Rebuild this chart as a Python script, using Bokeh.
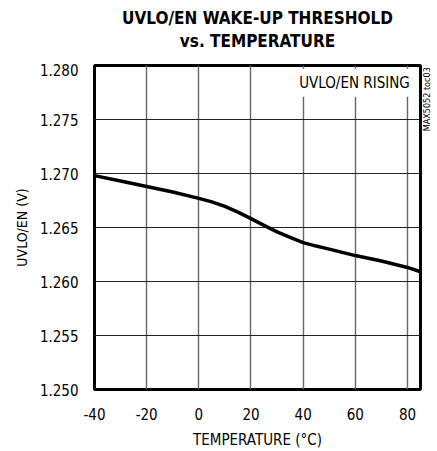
import numpy as np
from bokeh.plotting import figure
from bokeh.models import Range1d, FixedTicker, PrintfTickFormatter, Label
from bokeh.layouts import column, row
from bokeh.core.properties import value
from bokeh.embed import file_html
from bokeh.resources import INLINE

# Data
temperature = [-40, -30, -20, -10, 0, 5, 10, 15, 20, 25, 30, 35, 40, 45, 50, 60, 70, 80, 85]
threshold = [1.2698, 1.2693, 1.2688, 1.26828, 1.2677, 1.26737, 1.26695, 1.26642, 1.26582, 1.2652,
             1.2646, 1.26408, 1.2636, 1.26328, 1.2630, 1.2624, 1.2619, 1.2613, 1.2609]
x_ticks = [-40, -20, 0, 20, 40, 60, 80]
y_ticks = [1.250, 1.255, 1.260, 1.265, 1.270, 1.275, 1.280]

title_lines = ["UVLO/EN WAKE-UP THRESHOLD", "vs. TEMPERATURE"]
x_label = "TEMPERATURE (°C)"
y_label = "UVLO/EN (V)"
curve_label = "UVLO/EN RISING"
toc_label = "MAX5052 toc03"

FONT = "DejaVu Sans Condensed"

# --- title strip ---
TOP_H = 63
t = figure(width=437, height=TOP_H, output_backend="svg", toolbar_location=None,
           x_range=Range1d(0, 437), y_range=Range1d(0, TOP_H),
           x_axis_location=None, y_axis_location=None, min_border=0)
t.outline_line_color = None
t.grid.visible = False
t.text(x=[257, 257], y=[TOP_H - 17.5, TOP_H - 40], text=title_lines,
       text_font=value(FONT), text_font_style="bold", text_font_size="17px",
       text_align="center", text_baseline="middle", text_color="black")

# --- main chart ---
MAIN_H = 388
p = figure(width=422, height=MAIN_H, output_backend="svg", toolbar_location=None,
           x_range=Range1d(-40, 85), y_range=Range1d(1.250, 1.280),
           min_border_left=94, min_border_right=2, min_border_top=2, min_border_bottom=61)

p.outline_line_color = "black"
p.outline_line_width = 3
p.background_fill_color = "white"
p.border_fill_color = "white"

p.xaxis.ticker = FixedTicker(ticks=x_ticks)
p.yaxis.ticker = FixedTicker(ticks=y_ticks)
p.xaxis.formatter = PrintfTickFormatter(format="%d")
p.yaxis.formatter = PrintfTickFormatter(format="%.3f")

for ax in (p.xaxis[0], p.yaxis[0]):
    ax.axis_line_color = None
    ax.major_tick_line_color = None
    ax.minor_tick_line_color = None
    ax.major_tick_out = 0
    ax.major_tick_in = 0
    ax.major_label_text_font = FONT
    ax.major_label_text_font_size = "15px"
    ax.major_label_text_color = "black"
    ax.axis_label_text_font = FONT
    ax.axis_label_text_font_size = "15px"
    ax.axis_label_text_font_style = "normal"
    ax.axis_label_text_color = "black"

p.xaxis.axis_label = x_label
p.yaxis.axis_label = y_label
p.yaxis.axis_label_text_font_size = "14px"
p.xaxis.major_label_standoff = 18
p.xaxis.axis_label_standoff = 8
p.yaxis.major_label_standoff = 16
p.yaxis.axis_label_standoff = 7

p.xgrid.grid_line_color = "#666666"
p.xgrid.grid_line_width = 1.4
p.ygrid.grid_line_color = "#222222"
p.ygrid.grid_line_width = 1

p.line(temperature, threshold, line_color="black", line_width=3.5)

p.add_layout(Label(x=82.8, y=1.2784, text=curve_label, text_align="right", text_baseline="middle",
                   text_font=FONT, text_font_size="15px", text_color="black",
                   background_fill_color="white", background_fill_alpha=1.0,
                   padding=5))

# --- narrow side strip with the vertical code ---
q = figure(width=15, height=MAIN_H, output_backend="svg", toolbar_location=None,
           x_range=Range1d(0, 15), y_range=Range1d(0, MAIN_H),
           x_axis_location=None, y_axis_location=None, min_border=0)
q.outline_line_color = None
q.grid.visible = False
q.text(x=[4.5], y=[MAIN_H - 2], text=[toc_label], angle=np.pi / 2,
       text_font=value(FONT), text_font_size="9px", text_align="right",
       text_baseline="middle", text_color="black")

layout = column(t, row(p, q))
open("out.html", "w").write(file_html(layout, INLINE))
